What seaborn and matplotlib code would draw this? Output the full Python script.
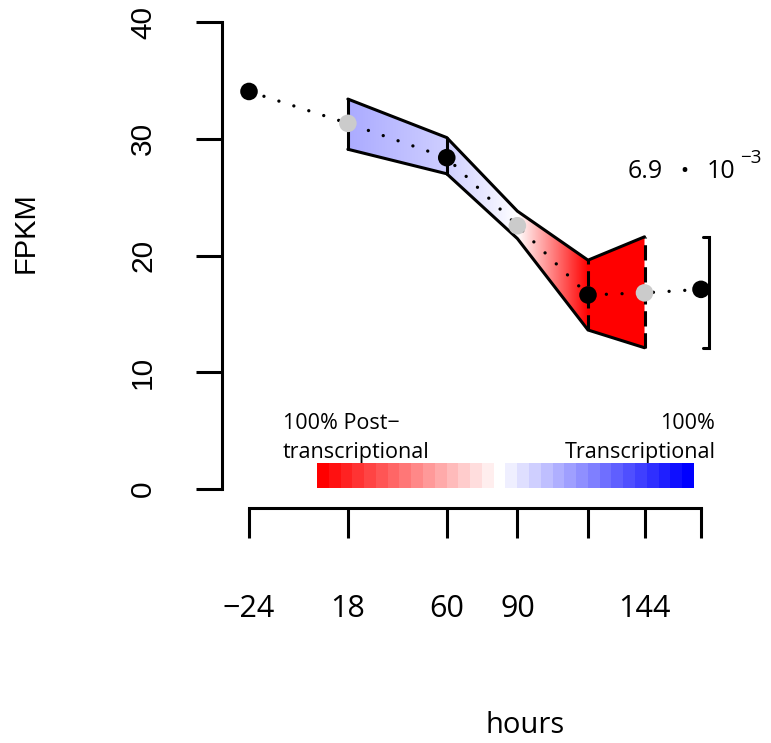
import numpy as np
import matplotlib
matplotlib.use("Agg")
import matplotlib.pyplot as plt
import seaborn as sns
from matplotlib.patches import Polygon

# ---------------- data ----------------
obs_hours = [-24, 60, 120, 168]
obs_fpkm = [34.05, 28.38, 16.62, 17.1]
mid_hours = [18, 90, 144]
mid_fpkm = [31.32, 22.55, 16.8]

band_hours = [18, 60, 90, 120, 144]
band_upper = [33.4, 30.1, 23.8, 19.6, 21.6]
band_lower = [29.1, 27.0, 21.45, 13.62, 12.1]
# >0 : transcriptional share (blue), <0 : post-transcriptional share (red)
transcriptional_share = [0.33, 0.19, 0.0, -1.0, -1.0]
band_edge_style = ["solid", "solid", None, "dashed", "dashed"]

tick_hours = [-24, 18, 60, 90, 120, 144, 168]
tick_labels = ["\u221224", "18", "60", "90", "", "144", ""]
y_ticks = [0, 10, 20, 30, 40]
y_tick_labels = ["0", "10", "20", "30", "40"]

bracket_range = [12.1, 21.6]
annot_parts = ["6.9", "\u00b7", "10", "\u22123"]

legend_left = ["100% Post\u2212", "transcriptional"]
legend_right = ["100%", "Transcriptional"]
n_red, n_blue = 15, 16

# ---------------- style ----------------
sns.set_style("ticks")
plt.rcParams.update({
    "font.family": ["Open Sans", "DejaVu Sans"],
    "text.color": "black",
    "axes.labelcolor": "black",
    "axes.edgecolor": "black",
    "xtick.color": "black",
    "ytick.color": "black",
})

W, H = 771, 743
fig = plt.figure(figsize=(W / 100, H / 100), dpi=100)
px_h = (701 - 249) / 192.0
px_v = (489 - 22) / 40.0


def hx(px):
    return -24 + (px - 249) / px_h


def vy(py):
    return (489 - py) / px_v


ax = fig.add_axes([222 / W, 1 - 508 / H, (760 - 222) / W, (508 - 10) / H])
LW = 2.2

# ---- gradient band ----
verts = list(zip(band_hours, band_upper)) + list(zip(band_hours[::-1], band_lower[::-1]))
poly = Polygon(verts, closed=True, facecolor="none", edgecolor="none", transform=ax.transData)
ax.add_patch(poly)
tcols = np.linspace(band_hours[0], band_hours[-1], 600)
share = np.interp(tcols, band_hours, transcriptional_share)
rgb = np.where(share[:, None] >= 0,
               np.stack([1 - share, 1 - share, np.ones_like(share)], axis=1),
               np.stack([np.ones_like(share), 1 + share, 1 + share], axis=1))
im = ax.imshow(rgb[None, :, :], extent=(band_hours[0], band_hours[-1], min(band_lower), max(band_upper)),
               aspect="auto", origin="lower", interpolation="bilinear", zorder=1)
im.set_clip_path(poly)

ax.plot(band_hours, band_upper, color="black", lw=LW, solid_joinstyle="miter", zorder=2)
ax.plot(band_hours, band_lower, color="black", lw=LW, solid_joinstyle="miter", zorder=2)
for t, lo, hi, st in zip(band_hours, band_lower, band_upper, band_edge_style):
    if st is None:
        continue
    ls = "-" if st == "solid" else (0, (5.0, 2.2))
    ax.plot([t, t], [lo, hi], color="black", lw=LW, linestyle=ls, zorder=2)

# ---- dotted trajectory and points ----
all_hours = sorted(obs_hours + mid_hours)
lookup = dict(zip(obs_hours + mid_hours, obs_fpkm + mid_fpkm))
all_fpkm = [lookup[h] for h in all_hours]
sns.lineplot(x=all_hours, y=all_fpkm, ax=ax, color="black", lw=2.4,
             linestyle=(0, (0.01, 4.7)), dash_capstyle="round", zorder=3)
sns.scatterplot(x=mid_hours, y=mid_fpkm, ax=ax, color="#cbcbcb", s=160, edgecolor="none", zorder=4)
sns.scatterplot(x=obs_hours, y=obs_fpkm, ax=ax, color="black", s=160, edgecolor="none", zorder=4)

# ---- bracket ----
bx, bs = hx(709), hx(703)
ax.plot([bs, bx, bx, bs], [bracket_range[1], bracket_range[1], bracket_range[0], bracket_range[0]],
        color="black", lw=LW, solid_joinstyle="miter", zorder=2)

# ---- annotation ----
ax.text(hx(628), vy(178), annot_parts[0], ha="left", va="baseline", fontsize=18)
ax.text(hx(684), vy(180), annot_parts[1], ha="center", va="baseline", fontsize=20, fontweight="bold")
ax.text(hx(707), vy(178), annot_parts[2], ha="left", va="baseline", fontsize=18)
ax.text(hx(740), vy(163), annot_parts[3], ha="left", va="baseline", fontsize=13.5)

# ---- colour legend ----
pal = [(1, i / n_red, i / n_red) for i in range(n_red)] + [(1, 1, 1)] + \
      [(1 - j / n_blue, 1 - j / n_blue, 1) for j in range(1, n_blue + 1)]
ax.imshow(np.array(pal)[None, :, :], extent=(hx(317), hx(694), vy(488), vy(463)), aspect="auto",
          origin="lower", interpolation="nearest", zorder=1)
ax.text(hx(283), vy(429), legend_left[0], ha="left", va="baseline", fontsize=15.5)
ax.text(hx(283), vy(458), legend_left[1], ha="left", va="baseline", fontsize=15.5)
ax.text(hx(715), vy(429), legend_right[0], ha="right", va="baseline", fontsize=15.5)
ax.text(hx(716), vy(458), legend_right[1], ha="right", va="baseline", fontsize=15.5)

# ---- axes ----
ax.set_xlim(hx(222), hx(760))
ax.set_ylim(vy(508), vy(10))
for s in ["top", "right"]:
    ax.spines[s].set_visible(False)
ax.spines["left"].set_bounds(0, 40)
ax.spines["bottom"].set_bounds(-24, 168)
for s in ["left", "bottom"]:
    ax.spines[s].set_linewidth(LW)
    ax.spines[s].set_capstyle("projecting")

ax.set_xticks(tick_hours)
ax.set_xticklabels(tick_labels, fontsize=22, family="Open Sans")
ax.set_yticks(y_ticks)
ax.set_yticklabels(y_tick_labels, rotation=90, va="center", fontsize=21.5, family="Liberation Sans")
ax.tick_params(axis="x", length=21.6, width=LW, pad=40, direction="out")
ax.tick_params(axis="y", length=18.7, width=LW, pad=28, direction="out")

ax.set_xlabel("hours", fontsize=21, family="Open Sans")
ax.xaxis.label.set_va("baseline")
ax.xaxis.set_label_coords((525 - 222) / (760 - 222), (508 - 733) / (508 - 10))
ax.set_ylabel("FPKM", fontsize=21, family="Liberation Sans")
ax.yaxis.label.set_va("center")
ax.yaxis.set_label_coords((26 - 222) / (760 - 222), (508 - 233) / (508 - 10))

fig.savefig("out.png", dpi=100)
